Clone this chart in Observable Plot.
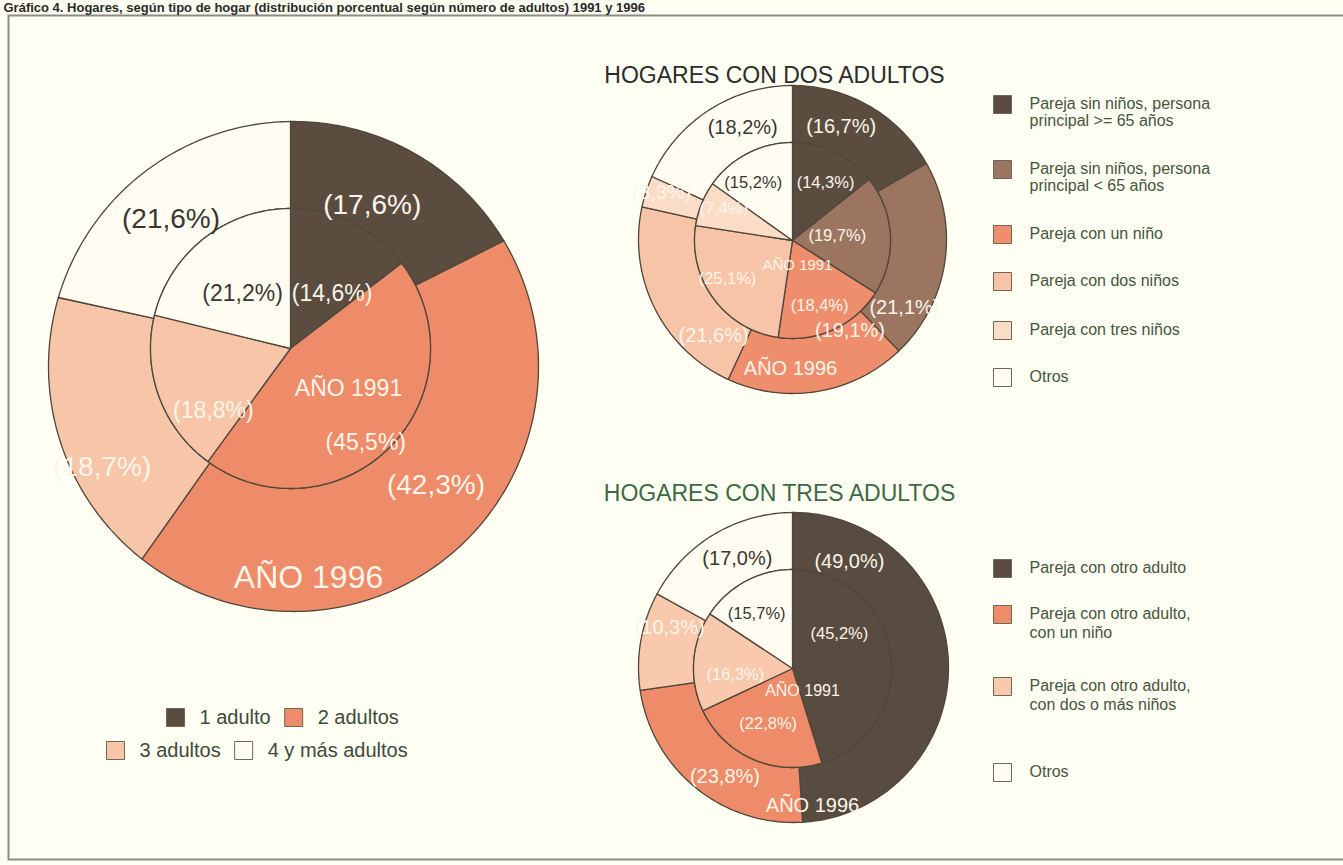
<!DOCTYPE html>
<html><head><meta charset="utf-8">
<script src="https://cdn.jsdelivr.net/npm/d3@7"></script>
<script src="https://cdn.jsdelivr.net/npm/@observablehq/plot@0.6"></script>
<style>html,body{margin:0;padding:0;background:#fffef3;overflow:hidden}</style>
</head><body><div id="chart"></div>
<script>
// ---------- DATA ----------
const titleText = "Gráfico 4. Hogares, según tipo de hogar (distribución porcentual según número de adultos) 1991 y 1996";
const yearLabels = ["AÑO 1991", "AÑO 1996"];

const bigCategories = ["1 adulto", "2 adultos", "3 adultos", "4 y más adultos"];
const big1991 = [14.6, 45.5, 18.8, 21.2];
const big1996 = [17.6, 42.3, 18.7, 21.6];

const dosTitle = "HOGARES CON DOS ADULTOS";
const dosCategories = ["Pareja sin niños, persona principal >= 65 años", "Pareja sin niños, persona principal < 65 años", "Pareja con un niño", "Pareja con dos niños", "Pareja con tres niños", "Otros"];
const dosLegendLines = [["Pareja sin niños, persona", "principal >= 65 años"], ["Pareja sin niños, persona", "principal < 65 años"], ["Pareja con un niño"], ["Pareja con dos niños"], ["Pareja con tres niños"], ["Otros"]];
const dos1991 = [14.3, 19.7, 18.4, 25.1, 7.4, 15.2];
const dos1996 = [16.7, 21.1, 19.1, 21.6, 3.3, 18.2];

const tresTitle = "HOGARES CON TRES ADULTOS";
const tresCategories = ["Pareja con otro adulto", "Pareja con otro adulto, con un niño", "Pareja con otro adulto, con dos o más niños", "Otros"];
const tresLegendLines = [["Pareja con otro adulto"], ["Pareja con otro adulto,", "con un niño"], ["Pareja con otro adulto,", "con dos o más niños"], ["Otros"]];
const tres1991 = [45.2, 22.8, 16.3, 15.7];
const tres1996 = [49.0, 23.8, 10.3, 17.0];

// ---------- STYLE / LAYOUT ----------
const W = 1343, H = 865;
const BG = "#fffef3";
const EDGE = "#4f463c";
const FONT = "Liberation Sans, Arial, sans-serif";
const LIGHT = "#fdf5ea", DARK = "#3b3631";
const bigColors = ["#5a4d40", "#ee8b68", "#f7c6a9", "#fffdf1"];
const bigInk = [LIGHT, LIGHT, LIGHT, DARK];
const dosColors = ["#5a4d40", "#9b7560", "#ef8e6c", "#f7c4a7", "#fbdcc7", "#fffdf1"];
const dosInk = [LIGHT, LIGHT, LIGHT, LIGHT, LIGHT, DARK];
const tresColors = ["#574c3f", "#ee8b68", "#f8c9ac", "#fffdf1"];
const tresInk = [LIGHT, LIGHT, LIGHT, DARK];

// pie geometry: ray centre, inner circle radius, outer circle centre + radius
const gBig = {cx: 290, cy: 348, rIn: 140, ox: 293, oy: 366, rOut: 245,
  fsOut: 28, fsIn: 23, fsY96: 32, fsY91: 23,
  outShift: [-2, -6, -11, -4], outFrac: [0.28, 0.5, 0.74, 0.4],
  inShift: [11, 7, -19, -3], inFrac: [0.49, 0.86, 0.71, 0.52],
  y91: [58, 40], y96: [18, 229]};
const gDos = {cx: 792, cy: 240, rIn: 98, ox: 792, oy: 239, rOut: 154,
  fsOut: 20, fsIn: 16.5, fsY96: 20, fsY91: 15,
  outShift: [-7, 23, -23, -24, 1.5, 9], outFrac: [0.46, 0.59, 0.16, 0.46, 0.73, 0.45],
  inShift: [4, -3, 2, 6, 2.5, -7], inFrac: [0.68, 0.46, 0.72, 0.77, 0.77, 0.71],
  y91: [5, 25], y96: [-2, 128]};
const gTres = {cx: 792, cy: 668, rIn: 99, ox: 793, oy: 667, rOut: 155,
  fsOut: 20, fsIn: 16.5, fsY96: 20, fsY91: 16,
  outShift: [-60, -7, 8, 4], outFrac: [0.38, 0.52, 0.55, 0.43],
  inShift: [-28, 0, -10, -5], inFrac: [0.59, 0.61, 0.58, 0.66],
  y91: [10, 22], y96: [20, 137]};

const rad = d => d * Math.PI / 180;
function tOut(g, a) {
  const ux = Math.sin(a), uy = -Math.cos(a);
  const wx = g.cx - g.ox, wy = g.cy - g.oy;
  const b = ux * wx + uy * wy, c = wx * wx + wy * wy - g.rOut * g.rOut;
  return -b + Math.sqrt(b * b - c);
}
const pt = (g, a, t) => [g.cx + t * Math.sin(a), g.cy - t * Math.cos(a)];
const pie = d3.pie().sort(null).value(d => d);

function arcPts(g, a0, a1, rf) {
  const n = Math.max(2, Math.ceil(Math.abs(a1 - a0) / rad(1)));
  const out = [];
  for (let k = 0; k <= n; k++) { const a = a0 + (a1 - a0) * k / n; out.push(pt(g, a, rf(a))); }
  return out;
}
const pct = v => "(" + v.toFixed(1).replace(".", ",") + "%)";

function build(name, g, v91, v96, colors, ink) {
  const outer = [], inner = [], labOut = [], labIn = [];
  pie(v96).forEach((s, i) => {
    const pts = arcPts(g, s.startAngle, s.endAngle, a => tOut(g, a))
      .concat(arcPts(g, s.endAngle, s.startAngle, () => g.rIn));
    pts.forEach(([x, y]) => outer.push({id: name + "o" + i, x, y, fill: colors[i]}));
    const a = (s.startAngle + s.endAngle) / 2 + rad(g.outShift[i]);
    const t = g.rIn + g.outFrac[i] * (tOut(g, a) - g.rIn);
    const [x, y] = pt(g, a, t);
    labOut.push({x, y, text: pct(v96[i]), fill: ink[i]});
  });
  pie(v91).forEach((s, i) => {
    const pts = [[g.cx, g.cy]].concat(arcPts(g, s.startAngle, s.endAngle, () => g.rIn));
    pts.forEach(([x, y]) => inner.push({id: name + "i" + i, x, y, fill: colors[i]}));
    const a = (s.startAngle + s.endAngle) / 2 + rad(g.inShift[i]);
    const [x, y] = pt(g, a, g.inFrac[i] * g.rIn);
    labIn.push({x, y, text: pct(v91[i]), fill: ink[i]});
  });
  return [
    Plot.line(outer, {x: "x", y: "y", z: "id", fill: "fill", stroke: EDGE, strokeWidth: 1.3, curve: "linear-closed"}),
    Plot.line(inner, {x: "x", y: "y", z: "id", fill: "fill", stroke: EDGE, strokeWidth: 1.3, curve: "linear-closed"}),
    Plot.text(labOut, {x: "x", y: "y", text: "text", fill: "fill", fontSize: g.fsOut, fontFamily: FONT}),
    Plot.text(labIn, {x: "x", y: "y", text: "text", fill: "fill", fontSize: g.fsIn, fontFamily: FONT}),
    Plot.text([yearLabels[0]], {x: () => g.cx + g.y91[0], y: () => g.cy + g.y91[1], text: d => d, fill: LIGHT, fontSize: g.fsY91, fontFamily: FONT}),
    Plot.text([yearLabels[1]], {x: () => g.cx + g.y96[0], y: () => g.cy + g.y96[1], text: d => d, fill: LIGHT, fontSize: g.fsY96, fontFamily: FONT})
  ];
}

// vertical legends (right side); gaps[i] = distance from item i's last line to item i+1
function vLegend(lines, colors, x0, y0, gaps, lineStep, fs, ink) {
  const sw = [], tx = [];
  let y = y0;
  lines.forEach((ls, i) => {
    sw.push({x: x0, y: y + 1, fill: colors[i]});
    ls.forEach((l, j) => tx.push({x: x0 + 27, y: y + j * lineStep, text: l}));
    y += lineStep * (ls.length - 1) + (gaps[i] || 0);
  });
  return [
    Plot.dot(sw, {x: "x", y: "y", fill: "fill", symbol: "square", r: 18 / Math.sqrt(Math.PI), stroke: "#6d675c", strokeWidth: 1}),
    Plot.text(tx, {x: "x", y: "y", text: "text", textAnchor: "start", fill: ink, fontSize: fs, fontFamily: FONT})
  ];
}

// flowing legend rows (big pie)
const ctx = document.createElement("canvas").getContext("2d");
function rowLegend(items, colors, rowStarts, rowY, fs) {
  ctx.font = fs + "px 'Liberation Sans'";
  const sw = [], tx = [];
  items.forEach((row, r) => {
    let x = rowStarts[r];
    row.forEach(i => {
      sw.push({x: x + 9, y: rowY[r], fill: colors[i]});
      tx.push({x: x + 33, y: rowY[r], text: bigCategories[i]});
      x += 33 + ctx.measureText(bigCategories[i]).width + 14;
    });
  });
  return [
    Plot.dot(sw, {x: "x", y: "y", fill: "fill", symbol: "square", r: 18 / Math.sqrt(Math.PI), stroke: "#6d675c", strokeWidth: 1}),
    Plot.text(tx, {x: "x", y: "y", text: "text", textAnchor: "start", fill: "#3d4a3c", fontSize: fs, fontFamily: FONT})
  ];
}

const chart = Plot.plot({
  width: W, height: H, margin: 0,
  x: {domain: [0, W], range: [0, W], axis: null},
  y: {domain: [0, H], range: [0, H], axis: null},
  color: {type: "identity"},
  style: {background: BG, fontFamily: FONT, overflow: "hidden"},
  marks: [
    Plot.frame({stroke: "#8c8c84", strokeWidth: 2, insetLeft: 8, insetTop: 15, insetRight: -4, insetBottom: 6}),
    Plot.text([titleText], {x: () => 3, y: () => 7, text: d => d, textAnchor: "start", fontWeight: "bold", fontSize: 13, fill: "#2a2a2a", fontFamily: FONT}),
    ...build("big", gBig, big1991, big1996, bigColors, bigInk),
    ...build("dos", gDos, dos1991, dos1996, dosColors, dosInk),
    ...build("tres", gTres, tres1991, tres1996, tresColors, tresInk),
    Plot.text([dosTitle], {x: () => 774, y: () => 75, text: d => d, fontSize: 23, fill: "#2c2c2a", fontFamily: FONT}),
    Plot.text([tresTitle], {x: () => 779, y: () => 493, text: d => d, fontSize: 23, fill: "#3b6a43", fontFamily: FONT}),
    ...vLegend(dosLegendLines, dosColors, 1002, 103, [48, 48, 47, 49, 47], 17, 16, "#47553f"),
    ...vLegend(tresLegendLines, tresColors, 1002, 567, [46, 53, 67], 19, 16, "#47553f"),
    ...rowLegend([[0, 1], [2, 3]], bigColors, [166, 106], [717, 750], 20)
  ]
});
document.getElementById("chart").appendChild(chart);
</script>
</body></html>
